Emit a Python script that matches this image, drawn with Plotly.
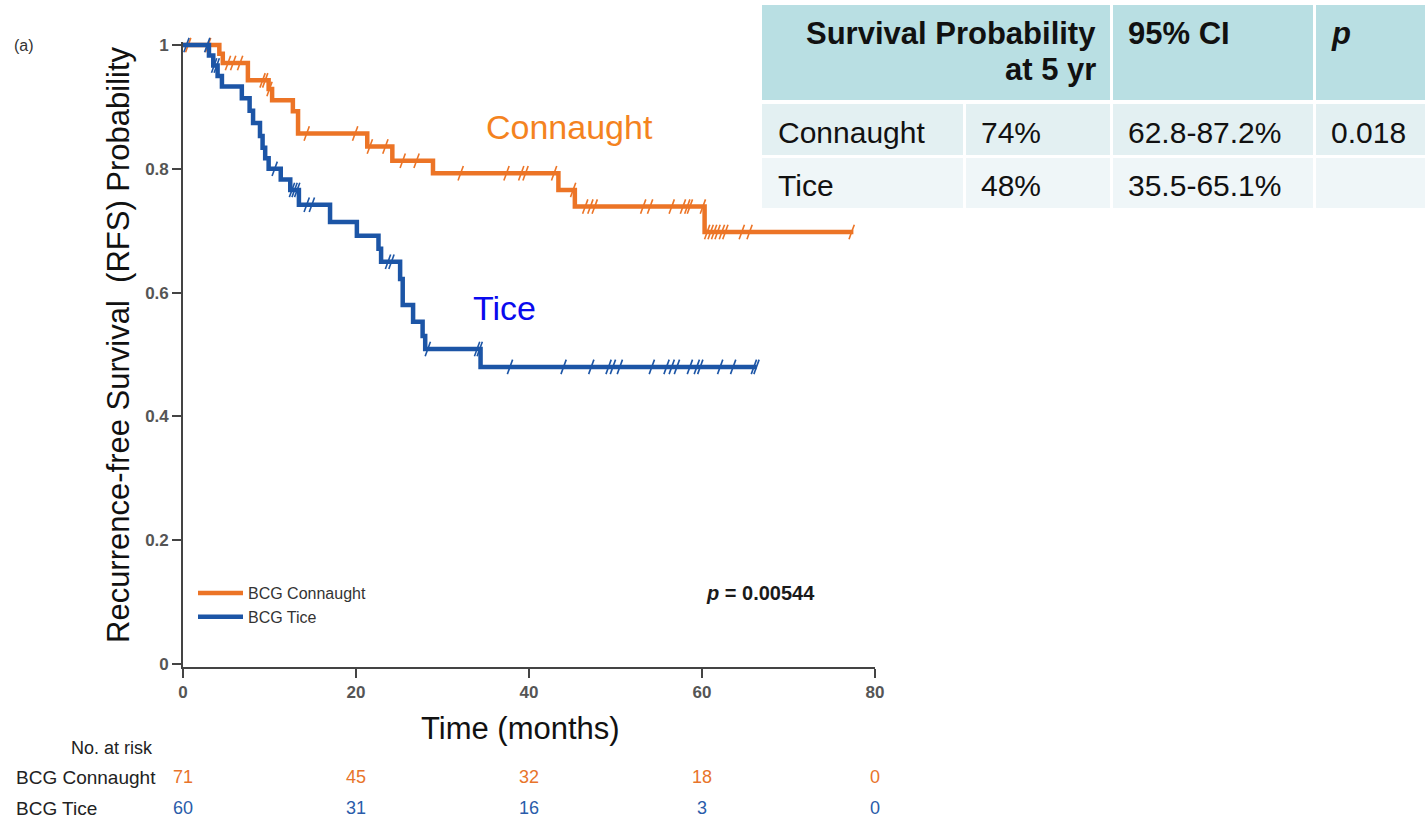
import numpy as np
import plotly.graph_objects as go

# ---------------- data ----------------
conn_t = [0, 4.2, 4.6, 7.5, 9.9, 10.3, 12.7, 13.3, 21.3, 24.2, 28.9, 43.4, 45.3, 60.3]
conn_s = [1.0, 0.986, 0.971, 0.943, 0.929, 0.911, 0.893, 0.857, 0.836, 0.813, 0.793, 0.766, 0.739, 0.698]
conn_end = 77.5
conn_cens = [0.6, 2.9, 5.2, 5.8, 6.6, 9.2, 9.5, 10.0, 14.3, 19.9, 21.6, 23.4, 25.4, 27.0,
             32.1, 37.4, 39.1, 39.6, 42.9, 45.1, 46.5, 47.1, 47.6, 53.2, 54.0, 56.5, 57.8,
             58.3, 58.6, 60.1, 60.6, 61.0, 61.4, 61.8, 62.3, 62.7, 64.6, 65.5, 77.3]

tice_t = [0, 3.0, 3.5, 4.0, 4.5, 6.8, 7.7, 8.1, 8.9, 9.2, 9.5, 9.9, 11.3, 12.4, 13.4,
          17.0, 20.1, 22.6, 22.9, 25.1, 25.4, 26.6, 27.7, 28.0, 34.4]
tice_s = [1.0, 0.983, 0.967, 0.950, 0.933, 0.914, 0.894, 0.874, 0.853, 0.834, 0.817, 0.800,
          0.783, 0.766, 0.742, 0.714, 0.692, 0.671, 0.650, 0.622, 0.580, 0.553, 0.530, 0.509, 0.480]
tice_end = 66.3
tice_cens = [0.4, 2.8, 3.6, 3.9, 10.6, 12.6, 12.9, 13.2, 14.3, 14.9, 23.7, 24.1, 28.3, 34.0,
             34.3, 37.8, 44.0, 47.2, 49.2, 49.7, 50.5, 54.2, 55.9, 56.5, 57.1, 58.6, 59.4,
             59.8, 62.1, 63.6, 66.0, 66.3]

risk_times = [0, 20, 40, 60, 80]
risk_conn = [71, 45, 32, 18, 0]
risk_tice = [60, 31, 16, 3, 0]

x_ticks = [0, 20, 40, 60, 80]
y_ticks = [0, 0.2, 0.4, 0.6, 0.8, 1.0]
y_ticklabels = ["0", "0.2", "0.4", "0.6", "0.8", "1"]

table_header = ["Survival Probability", "at 5 yr", "95% CI", "p"]
table_groups = ["Connaught", "Tice"]
table_surv = ["74%", "48%"]
table_ci = ["62.8-87.2%", "35.5-65.1%"]
table_p = ["0.018", ""]

ORANGE = "#EC7426"
BLUE = "#1C55A6"
FONT = "Liberation Sans, Arial, sans-serif"

# ---------------- geometry helpers (pixel -> paper) ----------------
L, R, T, B = 183, 550, 42, 153
W, H = 1425, 820
PW, PH = W - L - R, H - T - B


def px(x):
    return (x - L) / PW


def py(y):
    return (H - B - y) / PH


def surv_at(times, surv, c):
    idx = np.searchsorted(np.array(times), np.array(c), side="right") - 1
    return np.array(surv)[idx]


fig = go.Figure()

for name, t, s, end, cens, col in [
    ("BCG Connaught", conn_t, conn_s, conn_end, conn_cens, ORANGE),
    ("BCG Tice", tice_t, tice_s, tice_end, tice_cens, BLUE),
]:
    fig.add_trace(go.Scatter(
        x=list(t) + [end], y=list(s) + [s[-1]], mode="lines", name=name,
        line=dict(color=col, width=4.5, shape="hv"),
    ))
    fig.add_trace(go.Scatter(
        x=cens, y=surv_at(t, s, cens), mode="markers", showlegend=False,
        marker=dict(symbol="line-ns", size=11, angle=20,
                    line=dict(color=col, width=1.6)),
        cliponaxis=False, hoverinfo="skip",
    ))

annotations = []


def note(x, y, text, font, xref="paper", yref="paper", xanchor="center", **kw):
    annotations.append(dict(x=x, y=y, xref=xref, yref=yref, text=text, showarrow=False,
                            xanchor=xanchor, yanchor="middle", font=font, **kw))


# curve labels
note(44.7, 0.868, "Connaught", dict(size=34, color="#F4831F", family=FONT), xref="x", yref="y")
note(37.2, 0.575, "Tice", dict(size=34, color="#0A0AEE", family=FONT), xref="x", yref="y")
note(60.2, 0.115, "<i>p</i> = 0.00544", dict(size=20, color="#1a1a1a", family=FONT, weight="bold"),
     xref="x", yref="y", xanchor="left")
# axis titles
note(px(520), py(728), "Time (months)", dict(size=31, color="#111", family=FONT))
note(px(118), py(345), "Recurrence-free Survival  (RFS) Probability",
     dict(size=31, color="#111", family=FONT), textangle=-90)
note(px(12), py(46), "(a)", dict(size=16, color="#333", family=FONT), xanchor="left")
# risk table
note(px(155), py(748), "No. at risk", dict(size=18, color="#222", family=FONT), xanchor="right")
note(px(14), py(777), "BCG Connaught", dict(size=19, color="#222", family=FONT), xanchor="left")
note(px(14), py(808), "BCG Tice", dict(size=19, color="#222", family=FONT), xanchor="left")
for t, a, b in zip(risk_times, risk_conn, risk_tice):
    note(t, py(777), str(a), dict(size=18, color="#E8742A", family=FONT), xref="x")
    note(t, py(808), str(b), dict(size=18, color="#2A5CAA", family=FONT), xref="x")

# summary table (top right)
shapes = []
HEAD_C = "#B9DFE3"
ROW1_C = "#E3F0F2"
ROW2_C = "#EFF6F8"
cells = [
    (762, 1110, 5, 100, HEAD_C), (1113, 1313, 5, 100, HEAD_C), (1316, 1425, 5, 100, HEAD_C),
    (762, 963, 104, 155, ROW1_C), (966, 1110, 104, 155, ROW1_C), (1113, 1313, 104, 155, ROW1_C),
    (1316, 1425, 104, 155, ROW1_C),
    (762, 963, 158, 208, ROW2_C), (966, 1110, 158, 208, ROW2_C), (1113, 1313, 158, 208, ROW2_C),
    (1316, 1425, 158, 208, ROW2_C),
]
for x0, x1, y0, y1, c in cells:
    shapes.append(dict(type="rect", xref="paper", yref="paper", x0=px(x0), x1=px(x1),
                       y0=py(y1), y1=py(y0), fillcolor=c, line=dict(width=0), layer="below"))

hf = dict(size=31, color="#111", family=FONT, weight="bold")
rf = dict(size=30, color="#111", family=FONT)
note(px(1098), py(33), table_header[0], hf, xanchor="right")
note(px(1098), py(70), table_header[1], hf, xanchor="right")
note(px(1126), py(33), table_header[2], hf, xanchor="left")
note(px(1329), py(33), "<i>" + table_header[3] + "</i>", hf, xanchor="left")
for i, yy in enumerate([132, 185]):
    for xx, txt in [(776, table_groups[i]), (979, table_surv[i]), (1126, table_ci[i]), (1329, table_p[i])]:
        if txt:
            note(px(xx), py(yy), txt, rf, xanchor="left")

axis_common = dict(showgrid=False, zeroline=False, showline=True, linecolor="#444", linewidth=1.6,
                   ticks="outside", ticklen=9, tickwidth=1.6, tickcolor="#444",
                   tickfont=dict(size=17, color="#555", family=FONT, weight="bold"))

fig.update_layout(
    width=W, height=H, margin=dict(l=L, r=R, t=T, b=B),
    paper_bgcolor="white", plot_bgcolor="white",
    xaxis=dict(range=[0, 80], tickvals=x_ticks, **axis_common),
    yaxis=dict(range=[-0.005, 1.005], tickvals=y_ticks, ticktext=y_ticklabels, **axis_common),
    showlegend=True,
    legend=dict(x=px(193), y=py(576), xanchor="left", yanchor="top", bgcolor="rgba(0,0,0,0)",
                font=dict(size=16, color="#333", family=FONT), itemwidth=45, tracegroupgap=0),
    annotations=annotations, shapes=shapes,
)

fig.write_html("out.html")
